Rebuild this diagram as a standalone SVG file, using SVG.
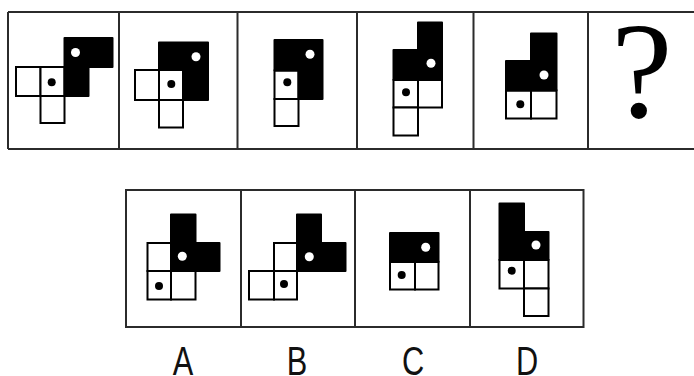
<svg xmlns="http://www.w3.org/2000/svg" width="694" height="376" viewBox="0 0 694 376">
<style>
.frame{fill:none;stroke:#2b2b2b;stroke-width:2}
.cell{fill:#fff;stroke:#000;stroke-width:2}
.blk{fill:#000;stroke:#000;stroke-width:2;stroke-linejoin:round}
.wd{fill:#fff}
.bd{fill:#000}
.lbl{font-family:"Liberation Sans",Arial,sans-serif;font-size:41px;fill:#111;text-anchor:middle}
.q{font-family:"Liberation Serif","Times New Roman",serif;font-size:138px;fill:#000;text-anchor:middle}
</style>
<rect width="694" height="376" fill="#fff"/>
<g id="frames">
<path class="frame" d="M8,12H700M8,149H700M8,12V149M119,12V149M237.5,12V149M357,12V149M473.5,12V149M588,12V149"/>
<rect class="frame" x="126" y="190" width="457.5" height="137"/>
<path class="frame" d="M241,190V327M355,190V327M470,190V327"/>
</g>
<g id="p1">
<rect class="cell" x="16" y="67" width="24.5" height="29"/>
<rect class="cell" x="40.5" y="67" width="24" height="29"/>
<rect class="cell" x="40.5" y="96" width="24" height="27"/>
<polygon class="blk" points="64.5,38 112.5,38 112.5,67 88.5,67 88.5,96 64.5,96"/>
<circle class="wd" cx="75.5" cy="52.5" r="4.5"/>
<circle class="bd" cx="51.7" cy="82.3" r="4"/>
</g>
<g id="p2">
<rect class="cell" x="135" y="70" width="24" height="30"/>
<rect class="cell" x="159" y="70" width="24" height="30"/>
<rect class="cell" x="159" y="100" width="24" height="27.5"/>
<polygon class="blk" points="159,42.5 208,42.5 208,100 183,100 183,70 159,70"/>
<circle class="wd" cx="196" cy="56.7" r="4.5"/>
<circle class="bd" cx="171.3" cy="84" r="4"/>
</g>
<g id="p3">
<rect class="cell" x="274.5" y="70.5" width="24" height="28.5"/>
<rect class="cell" x="274.5" y="99" width="24" height="27"/>
<polygon class="blk" points="274.5,40 322.5,40 322.5,99 298.5,99 298.5,70.5 274.5,70.5"/>
<circle class="wd" cx="310" cy="54.3" r="4.5"/>
<circle class="bd" cx="287.3" cy="82.3" r="4"/>
</g>
<g id="p4">
<rect class="cell" x="393.5" y="80" width="24.5" height="27.5"/>
<rect class="cell" x="418" y="80" width="24" height="27.5"/>
<rect class="cell" x="393.5" y="107.5" width="24.5" height="28"/>
<polygon class="blk" points="418,22.5 442,22.5 442,80 393.5,80 393.5,50 418,50"/>
<circle class="wd" cx="431" cy="63.3" r="4.5"/>
<circle class="bd" cx="406" cy="92.3" r="4"/>
</g>
<g id="p5">
<rect class="cell" x="506" y="90.5" width="25" height="28"/>
<rect class="cell" x="531" y="90.5" width="25.5" height="28"/>
<polygon class="blk" points="531,33.5 556.5,33.5 556.5,90.5 506,90.5 506,61 531,61"/>
<circle class="wd" cx="544" cy="75" r="4.5"/>
<circle class="bd" cx="520.3" cy="104.3" r="4"/>
</g>
<g id="p6">
<text class="q" x="642" y="117">?</text>
</g>
<g id="optA">
<rect class="cell" x="147.5" y="243" width="23.5" height="28"/>
<rect class="cell" x="147.5" y="271" width="23.5" height="28.5"/>
<rect class="cell" x="171" y="271" width="24.5" height="28.5"/>
<polygon class="blk" points="171,214.5 195.5,214.5 195.5,243 219.5,243 219.5,271 171,271"/>
<circle class="wd" cx="182.3" cy="256.3" r="4.5"/>
<circle class="bd" cx="159" cy="286" r="4"/>
</g>
<g id="optB">
<rect class="cell" x="274" y="243" width="23" height="28"/>
<rect class="cell" x="249" y="271" width="25" height="28.5"/>
<rect class="cell" x="274" y="271" width="23" height="28.5"/>
<polygon class="blk" points="297,214.5 321,214.5 321,243 345.5,243 345.5,271 297,271"/>
<circle class="wd" cx="309.3" cy="256.7" r="4.5"/>
<circle class="bd" cx="284" cy="284" r="4"/>
</g>
<g id="optC">
<rect class="cell" x="390" y="262" width="25" height="27.5"/>
<rect class="cell" x="415" y="262" width="23.5" height="27.5"/>
<rect class="blk" x="390" y="233" width="48.5" height="29"/>
<circle class="wd" cx="425.7" cy="247.3" r="4.5"/>
<circle class="bd" cx="401.7" cy="275" r="4"/>
</g>
<g id="optD">
<rect class="cell" x="499.5" y="260" width="24.5" height="28.5"/>
<rect class="cell" x="524" y="260" width="24.5" height="28.5"/>
<rect class="cell" x="524" y="288.5" width="24.5" height="27.5"/>
<polygon class="blk" points="499.5,203.5 524,203.5 524,232 548.5,232 548.5,260 499.5,260"/>
<circle class="wd" cx="536" cy="245" r="4.5"/>
<circle class="bd" cx="511.7" cy="270.7" r="4"/>
</g>
<g id="labels">
<text class="lbl" transform="translate(183,375) scale(0.75,1)">A</text>
<text class="lbl" transform="translate(297,375) scale(0.75,1)">B</text>
<text class="lbl" transform="translate(413,375) scale(0.75,1)">C</text>
<text class="lbl" transform="translate(527,375) scale(0.75,1)">D</text>
</g>
</svg>
